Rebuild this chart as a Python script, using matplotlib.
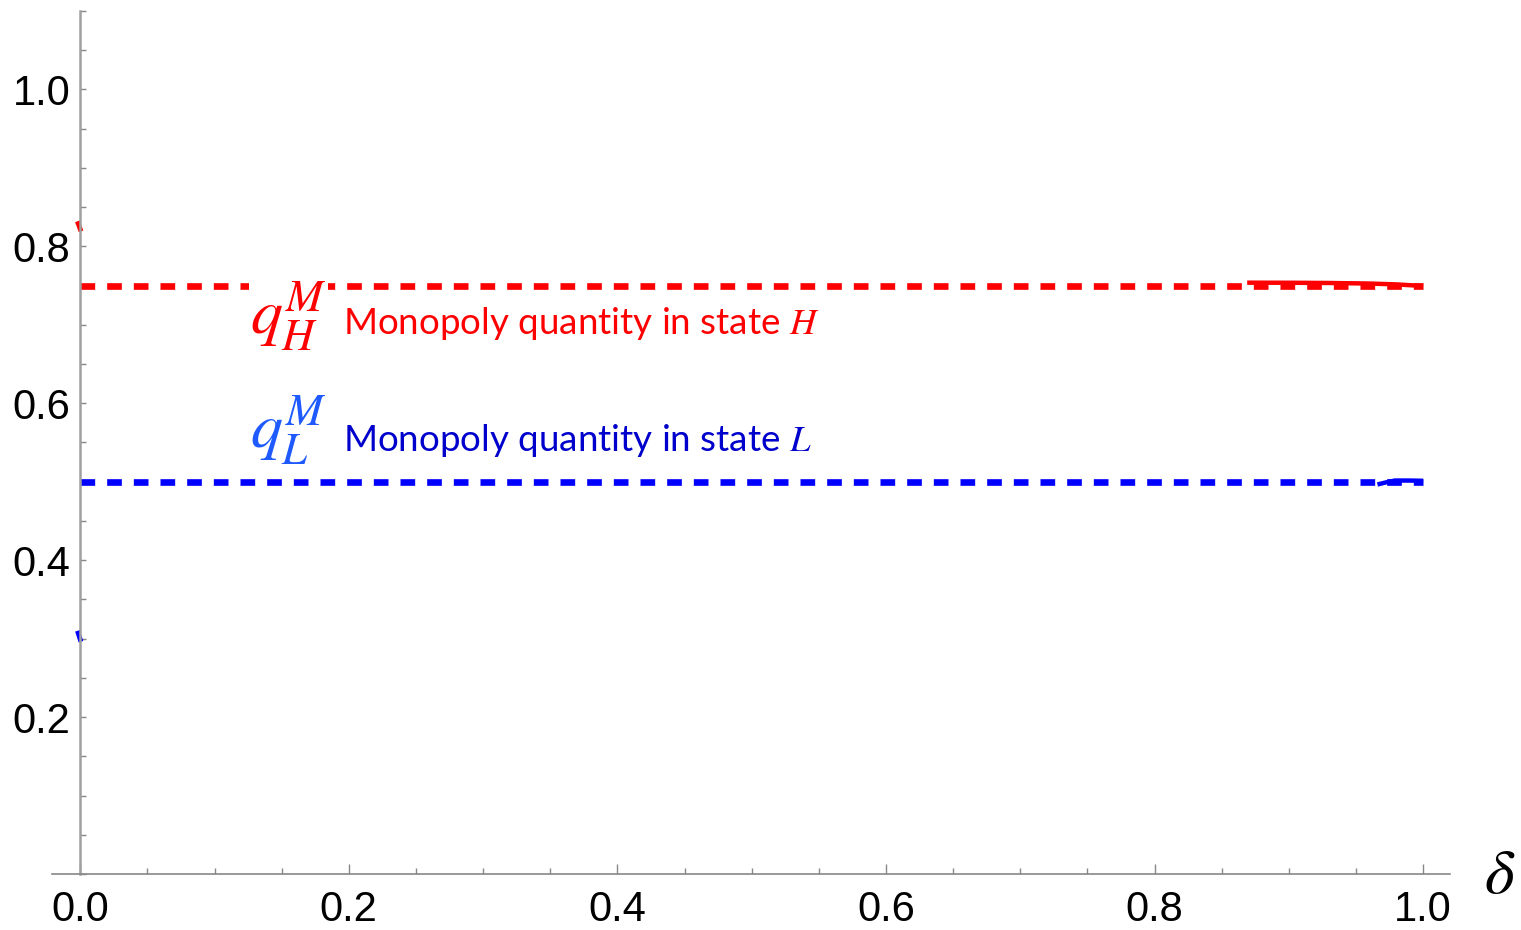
import numpy as np
import matplotlib.pyplot as plt
from matplotlib.ticker import MultipleLocator, FixedLocator

plt.rcParams['mathtext.fontset'] = 'stix'

# monopoly quantities (dashed reference lines)
q_high = 0.75
q_low = 0.5

# visible bits of the solid curves
red_left_x = [-0.0015, 0.0]
red_left_y = [0.829, 0.822]
blue_left_x = [-0.0015, 0.0]
blue_left_y = [0.307, 0.299]
red_right_x = [0.869, 0.90, 0.93, 0.96, 0.98, 1.0]
red_right_y = [0.7537, 0.7536, 0.7533, 0.7526, 0.7515, 0.7495]
blue_right_x = [0.966, 0.972, 0.979, 0.99, 1.0]
blue_right_y = [0.4965, 0.4990, 0.5015, 0.5015, 0.5012]

x_ticks = [0.0, 0.2, 0.4, 0.6, 0.8, 1.0]
y_ticks = [0.2, 0.4, 0.6, 0.8, 1.0]

RED = '#ff0000'
BLUE = '#0000ff'
AXC = '#a0a0a0'

fig = plt.figure(figsize=(15.21, 9.30), dpi=100)
ax = fig.add_axes([0.0342, 0.0602, 0.9191, 0.928])

ax.plot([0, 1], [q_high, q_high], color=RED, lw=4.8, dashes=(2.2, 1.8), solid_capstyle='butt')
ax.plot([0, 1], [q_low, q_low], color=BLUE, lw=4.8, dashes=(2.2, 1.8))
ax.plot(red_right_x, red_right_y, color=RED, lw=3.2, solid_capstyle='butt')
ax.plot(blue_right_x, blue_right_y, color=BLUE, lw=3.2, solid_capstyle='butt')
ax.plot(red_left_x, red_left_y, color=RED, lw=3.5, clip_on=False)
ax.plot(blue_left_x, blue_left_y, color=BLUE, lw=3.5, clip_on=False)

ax.set_xlim(-0.021, 1.02)
ax.set_ylim(0, 1.1)

for s in ['top', 'right']:
    ax.spines[s].set_visible(False)
ax.spines['left'].set_position(('data', 0))
ax.spines['left'].set_color(AXC)
ax.spines['left'].set_linewidth(1.8)
ax.spines['bottom'].set_color('#888888')
ax.spines['bottom'].set_linewidth(1.2)

ax.xaxis.set_major_locator(FixedLocator(x_ticks))
ax.xaxis.set_minor_locator(MultipleLocator(0.05))
ax.yaxis.set_major_locator(FixedLocator(y_ticks))
ax.yaxis.set_minor_locator(MultipleLocator(0.05))
ax.set_xticklabels(['%.1f' % v for v in x_ticks])
ax.set_yticklabels(['%.1f' % v for v in y_ticks])

ax.tick_params(axis='x', which='major', direction='in', length=7, width=1, color='#888888',
               labelsize=30, pad=11.5)
ax.tick_params(axis='x', which='minor', direction='in', length=4, width=1, color='#888888')
ax.tick_params(axis='y', which='major', direction='in', length=4, width=1, color='#888888',
               labelsize=30, pad=7)
ax.tick_params(axis='y', which='minor', direction='in', length=4, width=1, color='#888888')
for lab in ax.get_xticklabels() + ax.get_yticklabels():
    lab.set_fontfamily('Liberation Sans')

# labels
ax.text(0.1266, 0.711, r'$q_H^M$', color=RED, fontsize=46, ha='left', va='center',
        bbox=dict(facecolor='white', edgecolor='none', pad=1))
ax.text(0.196, 0.688, r'Monopoly quantity in state $H$', color=RED, fontsize=26.5,
        family='Lato', ha='left', va='baseline')
ax.text(0.1266, 0.566, r'$q_L^M$', color='#1e5aff', fontsize=46, ha='left', va='center')
ax.text(0.196, 0.539, r'Monopoly quantity in state $L$', color='#0000cc', fontsize=26.5,
        family='Lato', ha='left', va='baseline')

fig.text(0.986, 0.04, r'$\delta$', fontsize=46, ha='center', va='baseline')

fig.savefig('out.png', dpi=100)
